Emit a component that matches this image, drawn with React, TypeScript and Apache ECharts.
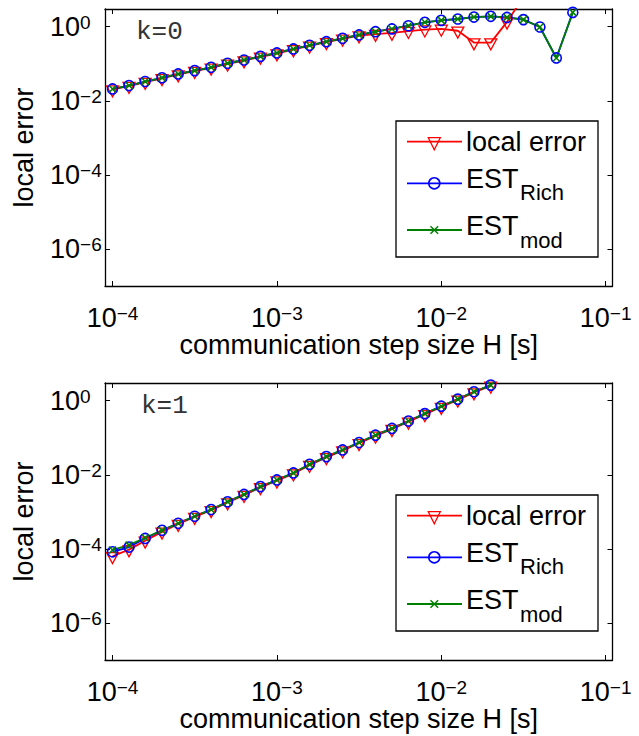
import React, { useEffect, useRef } from 'react';
import * as echarts from 'echarts';

// Communication step sizes H [s]
const stepSize = [
  1.0e-4, 1.26e-4, 1.58e-4, 2.0e-4, 2.51e-4, 3.16e-4, 3.98e-4, 5.01e-4, 6.31e-4, 7.94e-4,
  1.0e-3, 1.26e-3, 1.58e-3, 2.0e-3, 2.51e-3, 3.16e-3, 3.98e-3, 5.01e-3, 6.31e-3, 7.94e-3,
  1.0e-2, 1.26e-2, 1.58e-2, 2.0e-2, 2.51e-2, 3.16e-2, 3.98e-2, 5.01e-2, 6.31e-2,
];
const stepSizeK1 = stepSize.slice(0, 24);

// k = 0
const localErrK0 = [
  0.0202, 0.0248, 0.032, 0.0403, 0.0513, 0.0631, 0.0776, 0.0993, 0.122, 0.153,
  0.188, 0.243, 0.303, 0.38, 0.468, 0.575, 0.631, 0.676, 0.759, 0.832,
  0.871, 0.776, 0.372, 0.372, 1.35, 6.31,
];
const estRichK0 = [
  0.0209, 0.0257, 0.0331, 0.0417, 0.0531, 0.0652, 0.0802, 0.103, 0.126, 0.158,
  0.195, 0.251, 0.314, 0.394, 0.484, 0.597, 0.733, 0.867, 1.06, 1.31,
  1.48, 1.61, 1.82, 1.9, 1.78, 1.55, 0.98, 0.143, 2.43,
];
const estModK0 = [
  0.0209, 0.0257, 0.0331, 0.0417, 0.0531, 0.0652, 0.0802, 0.103, 0.126, 0.158,
  0.195, 0.251, 0.314, 0.394, 0.484, 0.597, 0.733, 0.867, 1.06, 1.31,
  1.48, 1.61, 1.82, 1.9, 1.78, 1.55, 0.98, 0.143, 2.43,
];

// k = 1
const localErrK1 = [
  6.31e-5, 9.55e-5, 1.66e-4, 2.88e-4, 4.68e-4, 7.24e-4, 1.1e-3, 1.78e-3, 2.82e-3, 4.57e-3,
  6.92e-3, 1.07e-2, 1.82e-2, 2.95e-2, 4.47e-2, 7.08e-2, 0.112, 0.17, 0.269, 0.427,
  0.676, 1.05, 1.66, 2.51,
];
const estRichK1 = [
  8.32e-5, 1.12e-4, 1.91e-4, 3.16e-4, 4.9e-4, 7.59e-4, 1.15e-3, 1.86e-3, 2.95e-3, 4.79e-3,
  7.24e-3, 1.12e-2, 1.91e-2, 3.09e-2, 4.68e-2, 7.41e-2, 0.117, 0.178, 0.282, 0.447,
  0.708, 1.1, 1.74, 2.63,
];
const estModK1 = [
  9.33e-5, 1.26e-4, 2.0e-4, 3.16e-4, 4.9e-4, 7.59e-4, 1.15e-3, 1.86e-3, 2.95e-3, 4.79e-3,
  7.24e-3, 1.12e-2, 1.91e-2, 3.09e-2, 4.68e-2, 7.41e-2, 0.117, 0.178, 0.282, 0.447,
  0.708, 1.1, 1.74, 2.63,
];

// Axis ranges and labelled decades
const X_MIN = 9e-5;
const X_MAX = 0.11;
const Y_MIN = 1e-7;
const Y_MAX = 3;
const xTickExps = [-4, -3, -2, -1];
const yTickExps = [-6, -4, -2, 0];

const FONT = '"Liberation Sans", Arial, Helvetica, sans-serif';
const MONO = '"Liberation Mono", "Courier New", monospace';
const RED = '#ff0000';
const BLUE = '#0000ff';
const GREEN = '#008000';

const powLabel = (exps: number[]) => (v: number) => {
  const e = Math.log10(v);
  const r = Math.round(e);
  if (Math.abs(e - r) > 1e-6 || exps.indexOf(r) < 0) return '';
  const sup = r < 0 ? '\u2212' + -r : String(r);
  return `{b|10}{s|${sup}}`;
};

const richPow = {
  b: { fontFamily: FONT, fontSize: 27, lineHeight: 27, padding: [6, 0, 0, 0], verticalAlign: 'bottom', color: '#000' },
  s: { fontFamily: FONT, fontSize: 19, lineHeight: 19, verticalAlign: 'top', color: '#000' },
};

const GRIDS = [
  { left: 105, top: 9, width: 507.5, height: 277 },
  { left: 105, top: 383, width: 507.5, height: 277 },
];

const axisLine = { show: true, onZero: false, lineStyle: { color: '#000', width: 1.3 } };
const axisTick = { show: true, inside: true, length: 5, lineStyle: { color: '#000', width: 1 } };

const makeX = (gridIndex: number, position: 'bottom' | 'top') => ({
  type: 'log',
  logBase: 10,
  gridIndex,
  position,
  min: X_MIN,
  max: X_MAX,
  axisLine,
  axisTick,
  splitLine: { show: false },
  minorTick: { show: false },
  minorSplitLine: { show: false },
  axisLabel:
    position === 'bottom'
      ? { show: true, margin: 18, formatter: powLabel(xTickExps), rich: richPow }
      : { show: false },
  name: position === 'bottom' ? 'communication step size H [s]' : '',
  nameLocation: 'middle',
  nameGap: 45,
  nameTextStyle: { fontFamily: FONT, fontSize: 27, color: '#000' },
});

// logBase 100 puts a tick on every second decade
const makeY = (gridIndex: number, position: 'left' | 'right') => ({
  type: 'log',
  logBase: 100,
  gridIndex,
  position,
  min: Y_MIN,
  max: Y_MAX,
  axisLine,
  axisTick,
  splitLine: { show: false },
  minorTick: { show: false },
  minorSplitLine: { show: false },
  axisLabel:
    position === 'left'
      ? { show: true, margin: 55, align: 'left', formatter: powLabel(yTickExps), rich: richPow }
      : { show: false },
  name: position === 'left' ? 'local error' : '',
  nameLocation: 'middle',
  nameGap: 68,
  nameTextStyle: { fontFamily: FONT, fontSize: 27, color: '#000' },
});

const TRI = 'path://M0,0L12,0L6,11Z';
const CROSS = 'path://M0,0L10,10M0,10L10,0';

const markerStyle = {
  local: { symbol: TRI, symbolSize: [12, 11], symbolOffset: [0, 1.8], color: RED, bw: 1.3 },
  rich: { symbol: 'circle', symbolSize: 10, symbolOffset: [0, 0], color: BLUE, bw: 1.6 },
  mod: { symbol: CROSS, symbolSize: 7, symbolOffset: [0, 0], color: GREEN, bw: 1.5 },
};

const makeSeries = (
  name: string,
  grid: number,
  xs: number[],
  ys: number[],
  kind: keyof typeof markerStyle,
) => {
  const m = markerStyle[kind];
  return {
    type: 'line',
    name,
    xAxisIndex: grid * 2,
    yAxisIndex: grid * 2,
    data: ys.map((y, i) => [xs[i], y]),
    symbol: m.symbol,
    symbolSize: m.symbolSize,
    symbolOffset: m.symbolOffset,
    showSymbol: true,
    clip: true,
    silent: true,
    lineStyle: { color: m.color, width: 1.8 },
    itemStyle: { color: 'rgba(0,0,0,0)', borderColor: m.color, borderWidth: m.bw },
    emphasis: { disabled: true },
  };
};

const textStyle = (text: string, size: number, family = FONT, fill = '#000') => ({
  text,
  fontSize: size,
  fontFamily: family,
  fill,
  align: 'left',
  verticalAlign: 'middle',
  textAlign: 'left',
  textVerticalAlign: 'middle',
});

// Legend box drawn at a given top edge
const legendBox = (top: number) => {
  const left = 396;
  const lx1 = 407;
  const lx2 = 462;
  const mx = 434.3;
  const r1 = top + 20.7;
  const r2 = top + 62.3;
  const r3 = top + 109;
  return [
    {
      type: 'rect',
      shape: { x: left, y: top, width: 202, height: 136 },
      style: { fill: '#fff', stroke: '#000', lineWidth: 1.3 },
      z: 10,
    },
    { type: 'line', shape: { x1: lx1, y1: r1, x2: lx2, y2: r1 }, style: { stroke: RED, lineWidth: 1.8 }, z: 11 },
    {
      type: 'polygon',
      shape: { points: [[mx - 6, r1 - 4], [mx + 6, r1 - 4], [mx, r1 + 8]] },
      style: { fill: 'none', stroke: RED, lineWidth: 1.3 },
      z: 11,
    },
    { type: 'text', x: 466, y: top + 21.2, style: textStyle('local error', 27), z: 11 },
    { type: 'line', shape: { x1: lx1, y1: r2, x2: lx2, y2: r2 }, style: { stroke: BLUE, lineWidth: 1.8 }, z: 11 },
    {
      type: 'circle',
      shape: { cx: mx, cy: r2, r: 5.5 },
      style: { fill: 'none', stroke: BLUE, lineWidth: 1.6 },
      z: 11,
    },
    { type: 'text', x: 466, y: top + 57.9, style: textStyle('EST', 27), z: 11 },
    { type: 'text', x: 520, y: top + 71.3, style: textStyle('Rich', 22), z: 11 },
    { type: 'line', shape: { x1: lx1, y1: r3, x2: lx2, y2: r3 }, style: { stroke: GREEN, lineWidth: 1.8 }, z: 11 },
    {
      type: 'line',
      shape: { x1: mx - 3.8, y1: r3 - 3.8, x2: mx + 3.8, y2: r3 + 3.8 },
      style: { stroke: GREEN, lineWidth: 1.5 },
      z: 11,
    },
    {
      type: 'line',
      shape: { x1: mx - 3.8, y1: r3 + 3.8, x2: mx + 3.8, y2: r3 - 3.8 },
      style: { stroke: GREEN, lineWidth: 1.5 },
      z: 11,
    },
    { type: 'text', x: 466, y: top + 104.6, style: textStyle('EST', 27), z: 11 },
    { type: 'text', x: 520, y: top + 119, style: textStyle('mod', 22), z: 11 },
  ];
};

const option = {
  animation: false,
  backgroundColor: '#fff',
  textStyle: { fontFamily: FONT },
  grid: GRIDS.map((g) => ({ ...g, show: false, containLabel: false, outerBoundsMode: 'none' })),
  xAxis: [makeX(0, 'bottom'), makeX(0, 'top'), makeX(1, 'bottom'), makeX(1, 'top')],
  yAxis: [makeY(0, 'left'), makeY(0, 'right'), makeY(1, 'left'), makeY(1, 'right')],
  series: [
    makeSeries('local error', 0, stepSize, localErrK0, 'local'),
    makeSeries('EST_Rich', 0, stepSize, estRichK0, 'rich'),
    makeSeries('EST_mod', 0, stepSize, estModK0, 'mod'),
    makeSeries('local error', 1, stepSizeK1, localErrK1, 'local'),
    makeSeries('EST_Rich', 1, stepSizeK1, estRichK1, 'rich'),
    makeSeries('EST_mod', 1, stepSizeK1, estModK1, 'mod'),
  ],
  graphic: [
    { type: 'text', x: 136, y: 32, style: textStyle('k=0', 26, MONO, '#333'), z: 11 },
    { type: 'text', x: 141, y: 406, style: textStyle('k=1', 26, MONO, '#333'), z: 11 },
    ...legendBox(121),
    ...legendBox(495),
  ],
};

export default function App() {
  const ref = useRef<HTMLDivElement>(null);
  useEffect(() => {
    if (!ref.current) return;
    const chart = echarts.init(ref.current, null, { renderer: 'svg' });
    chart.setOption(option as any);
    return () => chart.dispose();
  }, []);
  return (
    <div
      ref={ref}
      style={{ position: 'fixed', left: 0, top: 0, width: 639, height: 736, background: '#fff' }}
    />
  );
}
